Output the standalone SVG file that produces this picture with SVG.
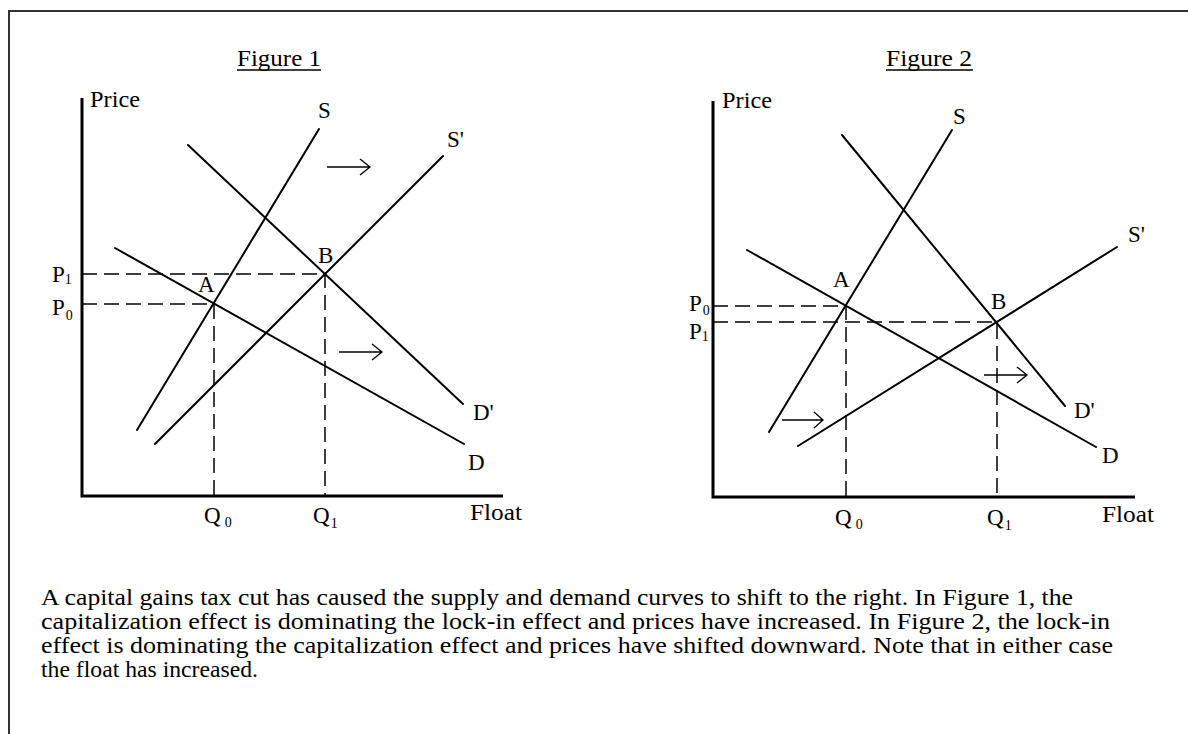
<svg xmlns="http://www.w3.org/2000/svg" width="1188" height="734" viewBox="0 0 1188 734">
<style>
.bg{fill:#ffffff}
.frame{fill:none;stroke:#333;stroke-width:2}
.axis{fill:none;stroke:#000;stroke-width:3}
.curve{fill:none;stroke:#000;stroke-width:2;stroke-linecap:round}
.guide{fill:none;stroke:#000;stroke-width:1.5;stroke-dasharray:15 7}
.arr{fill:none;stroke:#000;stroke-width:1.3}
.ul{stroke:#000;stroke-width:1.5}
text{font-family:"Liberation Serif","Times New Roman",serif;font-size:23px;fill:#000}
.sub{font-size:14px}
</style>
<rect class="bg" x="0" y="0" width="1188" height="734"/>
<path class="frame" d="M9 734 V11 H1188"/>

<g id="figure1">
  <text x="237" y="66" textLength="84" lengthAdjust="spacingAndGlyphs">Figure 1</text>
  <line class="ul" x1="237" y1="70" x2="321" y2="70"/>
  <path class="axis" d="M82 98 V496 H503"/>
  <g id="fig1-guides">
    <path class="guide" d="M82 274 H325 V496"/>
    <path class="guide" d="M82 304 H214 V496"/>
  </g>
  <g id="fig1-curves">
    <line class="curve" x1="319" y1="129" x2="137" y2="430"/>
    <line class="curve" x1="188" y1="145" x2="463" y2="404"/>
    <line class="curve" x1="443" y1="156" x2="155" y2="444"/>
    <line class="curve" x1="115" y1="248" x2="464" y2="444"/>
  </g>
  <g id="fig1-arrows">
    <path class="arr" d="M327 167 H370 M360 159 L370 167 L360 175"/>
    <path class="arr" d="M339 352 H382 M372 344 L382 352 L372 360"/>
  </g>
  <text x="90" y="107" textLength="50" lengthAdjust="spacingAndGlyphs">Price</text>
  <text x="318" y="118">S</text>
  <text x="447" y="147">S'</text>
  <text x="473" y="420">D'</text>
  <text x="468" y="470">D</text>
  <text x="198" y="292">A</text>
  <text x="318" y="263">B</text>
  <text x="52" y="282">P<tspan class="sub" dy="2">1</tspan></text>
  <text x="52" y="315">P<tspan class="sub" dx="1" dy="5">0</tspan></text>
  <text x="204" y="523">Q<tspan class="sub" dx="4" dy="4">0</tspan></text>
  <text x="313" y="523">Q<tspan class="sub" dx="1" dy="5">1</tspan></text>
  <text x="470" y="520" textLength="52" lengthAdjust="spacingAndGlyphs">Float</text>
</g>

<g id="figure2">
  <text x="886" y="66" textLength="86" lengthAdjust="spacingAndGlyphs">Figure 2</text>
  <line class="ul" x1="886" y1="70" x2="973" y2="70"/>
  <path class="axis" d="M713 101 V497 H1135"/>
  <g id="fig2-guides">
    <path class="guide" d="M713 306 H846 V497"/>
    <path class="guide" d="M713 322 H997 V497"/>
  </g>
  <g id="fig2-curves">
    <line class="curve" x1="842" y1="135" x2="1065" y2="406"/>
    <line class="curve" x1="952" y1="130" x2="769" y2="432"/>
    <line class="curve" x1="1117" y1="247" x2="798" y2="446"/>
    <line class="curve" x1="747" y1="250" x2="1096" y2="447"/>
  </g>
  <g id="fig2-arrows">
    <path class="arr" d="M782 420 H823 M814 412 L823 420 L814 428"/>
    <path class="arr" d="M984 375 H1027 M1017 367 L1027 375 L1017 383"/>
  </g>
  <text x="722" y="108" textLength="50" lengthAdjust="spacingAndGlyphs">Price</text>
  <text x="953" y="124">S</text>
  <text x="1128" y="242">S'</text>
  <text x="1074" y="418">D'</text>
  <text x="1102" y="463">D</text>
  <text x="833" y="287">A</text>
  <text x="991" y="309">B</text>
  <text x="689" y="311">P<tspan class="sub" dx="1" dy="4">0</tspan></text>
  <text x="689" y="339">P<tspan class="sub" dy="2">1</tspan></text>
  <text x="835" y="525">Q<tspan class="sub" dx="4" dy="4">0</tspan></text>
  <text x="987" y="525">Q<tspan class="sub" dx="1" dy="5">1</tspan></text>
  <text x="1102" y="522" textLength="52" lengthAdjust="spacingAndGlyphs">Float</text>
</g>

<g id="caption">
  <text x="41" y="605" textLength="1032" lengthAdjust="spacingAndGlyphs">A capital gains tax cut has caused the supply and demand curves to shift to the right. In Figure 1, the</text>
  <text x="41" y="629" textLength="1069" lengthAdjust="spacingAndGlyphs">capitalization effect is dominating the lock-in effect and prices have increased. In Figure 2, the lock-in</text>
  <text x="41" y="653" textLength="1072" lengthAdjust="spacingAndGlyphs">effect is dominating the capitalization effect and prices have shifted downward. Note that in either case</text>
  <text x="41" y="677" textLength="217" lengthAdjust="spacingAndGlyphs">the float has increased.</text>
</g>
</svg>
